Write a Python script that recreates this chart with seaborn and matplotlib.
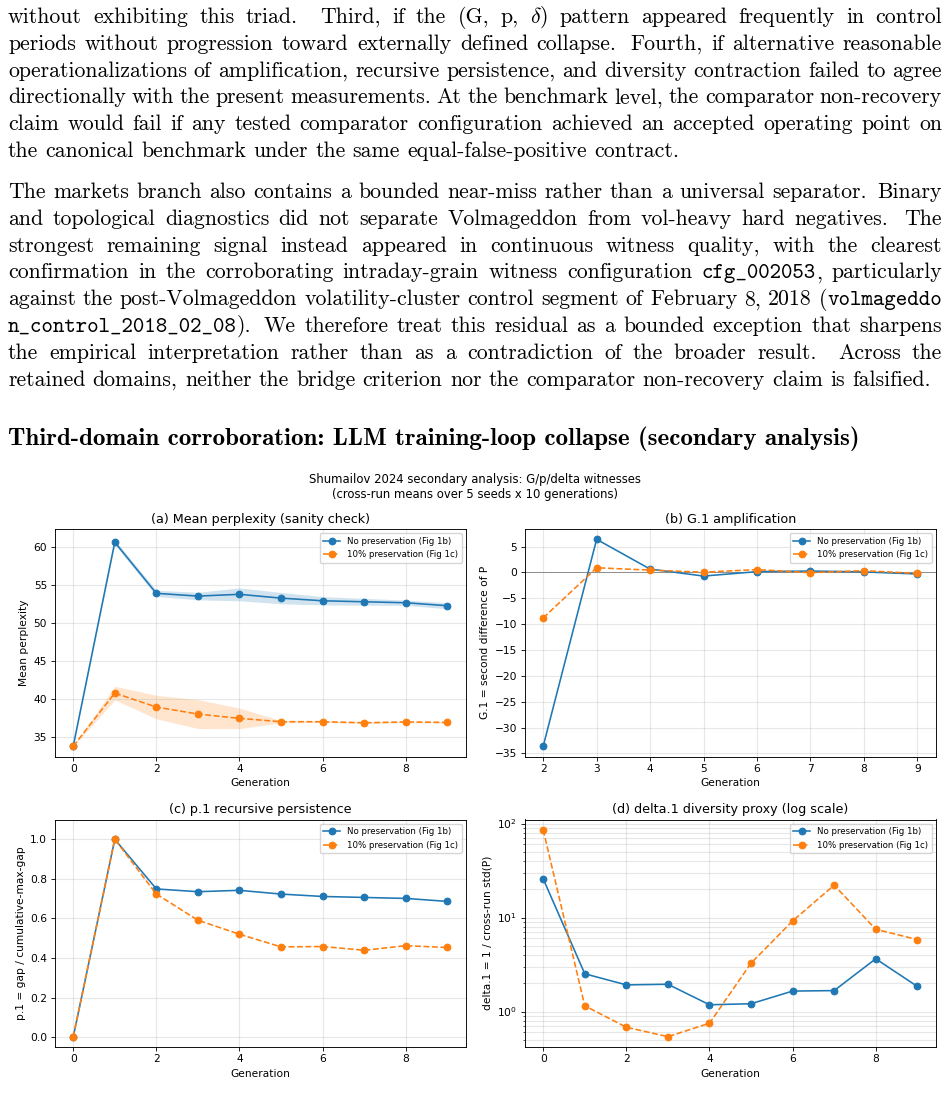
import numpy as np
import matplotlib
matplotlib.use('Agg')
import matplotlib.pyplot as plt
import seaborn as sns

# ---- page text ----
para1 = [
    "without exhibiting this triad.  Third, if the (G, p, $\\delta$) pattern appeared frequently in control",
    "periods without progression toward externally defined collapse.  Fourth, if alternative reasonable",
    "operationalizations of amplification, recursive persistence, and diversity contraction failed to agree",
    "directionally with the present measurements.  At the benchmark level, the comparator non-recovery",
    "claim would fail if any tested comparator configuration achieved an accepted operating point on",
    "the canonical benchmark under the same equal-false-positive contract.",
]
para2 = [
    "The markets branch also contains a bounded near-miss rather than a universal separator.  Binary",
    "and topological diagnostics did not separate Volmageddon from vol-heavy hard negatives.  The",
    "strongest remaining signal instead appeared in continuous witness quality, with the clearest",
    "confirmation in the corroborating intraday-grain witness configuration `cfg_002053`, particularly",
    "against the post-Volmageddon volatility-cluster control segment of February 8, 2018 (`volmageddo`",
    "`n_control_2018_02_08`).  We therefore treat this residual as a bounded exception that sharpens",
    "the empirical interpretation rather than as a contradiction of the broader result.  Across the",
    "retained domains, neither the bridge criterion nor the comparator non-recovery claim is falsified.",
]
heading = "Third-domain corroboration: LLM training-loop collapse (secondary analysis)"
suptitle = ("Shumailov 2024 secondary analysis: G/p/delta witnesses\n"
            "(cross-run means over 5 seeds x 10 generations)")

# ---- chart data ----
gens = [0, 1, 2, 3, 4, 5, 6, 7, 8, 9]
ppl_none = [33.8, 60.66, 53.93, 53.57, 53.8, 53.3, 52.95, 52.82, 52.69, 52.3]
ppl_none_sd = [0.1, 0.3, 0.4, 0.5, 0.85, 0.75, 0.55, 0.45, 0.35, 0.4]
ppl_keep = [33.8, 40.8, 38.96, 38.04, 37.47, 37.03, 37.03, 36.89, 37.0, 36.94]
ppl_keep_sd = [0.05, 0.9, 1.55, 1.9, 1.35, 0.15, 0.1, 0.1, 0.1, 0.1]

g_gens = [2, 3, 4, 5, 6, 7, 8, 9]
g_none = [-33.6, 6.4, 0.65, -0.7, 0.15, 0.27, 0.1, -0.3]
g_keep = [-8.8, 0.9, 0.45, 0.05, 0.55, -0.05, 0.35, -0.2]

p_none = [0.0, 1.0, 0.749, 0.735, 0.742, 0.723, 0.711, 0.706, 0.701, 0.686]
p_keep = [0.0, 1.0, 0.723, 0.591, 0.52, 0.456, 0.458, 0.439, 0.462, 0.453]

d_none = [25.8, 2.52, 1.92, 1.95, 1.18, 1.21, 1.65, 1.67, 3.64, 1.85]
d_keep = [85.8, 1.15, 0.68, 0.54, 0.75, 3.27, 9.2, 22.1, 7.5, 5.83]

lbl_none = "No preservation (Fig 1b)"
lbl_keep = "10% preservation (Fig 1c)"
BLUE = '#1f77b4'
ORANGE = '#ff7f0e'

plt.rcParams.update({
    'mathtext.fontset': 'cm',
    'font.size': 7.7, 'axes.titlesize': 9.2, 'axes.labelsize': 7.7,
    'xtick.labelsize': 7.7, 'ytick.labelsize': 7.7, 'legend.fontsize': 6.2,
    'lines.linewidth': 1.15, 'lines.markersize': 4.8, 'axes.linewidth': 0.65,
    'xtick.major.width': 0.6, 'ytick.major.width': 0.6,
    'xtick.major.size': 2.7, 'ytick.major.size': 2.7,
    'ytick.minor.size': 1.5, 'ytick.minor.width': 0.45,
    'xtick.major.pad': 2.7, 'ytick.major.pad': 2.7,
    'axes.titlepad': 4.6, 'axes.labelpad': 3.0,
})

W, H = 950, 1113
fig = plt.figure(figsize=(W / 100, H / 100), dpi=100)
renderer = fig.canvas.get_renderer()
RM = ['cmr10', 'DejaVu Serif']
TT = ['cmtt10', 'DejaVu Sans Mono']
L, R = 8, 942


def width_of(s, family, size):
    t = fig.text(0, 0, s, family=family, fontsize=size)
    w = t.get_window_extent(renderer).width
    t.remove()
    return w


def draw_line(line, y_px, justify, size):
    # words separated by two spaces end a sentence and get wider, stretchier gaps (TeX-like)
    em = size * 100 / 72
    words, sentence_end = [], []
    for chunk in line.split('  '):
        parts = chunk.split()
        for j, w in enumerate(parts):
            segs = []
            for i, part in enumerate(w.split('`')):
                if part:
                    segs.append((part, TT if i % 2 else RM))
            words.append(segs)
            sentence_end.append(j == len(parts) - 1)
    placed, total = [], 0
    for segs in words:
        objs = []
        for s, fam in segs:
            t = fig.text(0, 1 - y_px / H, s, family=fam, fontsize=size, va='baseline')
            w = t.get_window_extent(renderer).width
            objs.append((t, w))
            total += w
        placed.append(objs)
    nat = [(0.444 if e else 0.333) * em for e in sentence_end[:-1]]
    stretch = [(3.0 if e else 1.0) for e in sentence_end[:-1]]
    if justify:
        extra = R - L - total - sum(nat)
        gaps = [n + extra * s / sum(stretch) for n, s in zip(nat, stretch)]
    else:
        gaps = nat
    gaps.append(0)
    x = L
    for objs, g in zip(placed, gaps):
        for t, w in objs:
            t.set_x(x / W)
            x += w
        x += g


# calibrate body size so the short line matches its width in the page
body_size = 14 * 670 / width_of(para1[-1], RM, 14)
step = 26.8
for i, line in enumerate(para1):
    draw_line(line, 23 + i * step, i < len(para1) - 1, body_size)
for i, line in enumerate(para2):
    draw_line(line, 198 + i * step, i < len(para2) - 1, body_size)

head_size = 16 * 852 / width_of(heading, ['cmb10', 'DejaVu Serif'], 16)
fig.text(L / W, 1 - 445 / H, heading, family=['cmb10', 'DejaVu Serif'],
         fontsize=head_size, va='baseline')

fig.text(0.5, 1 - 487 / H, suptitle, ha='center', va='center', fontsize=8.4)

# ---- chart panels ----
def rect(l, t, r, b):
    return [l / W, 1 - b / H, (r - l) / W, (b - t) / H]

ax_a = fig.add_axes(rect(54.5, 529, 466, 756.5))
ax_b = fig.add_axes(rect(524.5, 529, 936, 756.5))
ax_c = fig.add_axes(rect(54.5, 819.5, 466, 1047))
ax_d = fig.add_axes(rect(524.5, 819.5, 936, 1047))


def two_lines(ax, x, y1, y2):
    sns.lineplot(x=x, y=y1, ax=ax, color=BLUE, marker='o', markeredgecolor=BLUE,
                 markeredgewidth=0.8, label=lbl_none)
    sns.lineplot(x=x, y=y2, ax=ax, color=ORANGE, marker='o', markeredgecolor=ORANGE,
                 markeredgewidth=0.8, linestyle='--', label=lbl_keep)
    ax.set_xlabel('Generation')
    ax.legend(loc='upper right')


# (a)
m1, s1 = np.array(ppl_none), np.array(ppl_none_sd)
m2, s2 = np.array(ppl_keep), np.array(ppl_keep_sd)
ax_a.fill_between(gens, m1 - s1, m1 + s1, color=BLUE, alpha=0.2, lw=0)
ax_a.fill_between(gens, m2 - s2, m2 + s2, color=ORANGE, alpha=0.2, lw=0)
two_lines(ax_a, gens, ppl_none, ppl_keep)
ax_a.set_ylim(32.45, 62.4)
ax_a.set_title('(a) Mean perplexity (sanity check)')
ax_a.set_ylabel('Mean perplexity')
ax_a.grid(True, alpha=0.3)

# (b)
ax_b.axhline(0, color='gray', lw=0.6)
two_lines(ax_b, g_gens, g_none, g_keep)
ax_b.set_title('(b) G.1 amplification')
ax_b.set_ylabel('G.1 = second difference of P')
ax_b.grid(True, alpha=0.3)

# (c)
two_lines(ax_c, gens, p_none, p_keep)
ax_c.set_ylim(-0.05, 1.1)
ax_c.set_title('(c) p.1 recursive persistence')
ax_c.set_ylabel('p.1 = gap / cumulative-max-gap')
ax_c.grid(True, alpha=0.3)

# (d)
ax_d.set_yscale('log')
two_lines(ax_d, gens, d_none, d_keep)
ax_d.set_title('(d) delta.1 diversity proxy (log scale)')
ax_d.set_ylabel('delta.1 = 1 / cross-run std(P)')
ax_d.grid(True, which='both', alpha=0.3)

for ax in (ax_a, ax_c, ax_d):
    ax.set_xticks([0, 2, 4, 6, 8])

fig.savefig('out.png', dpi=100)
